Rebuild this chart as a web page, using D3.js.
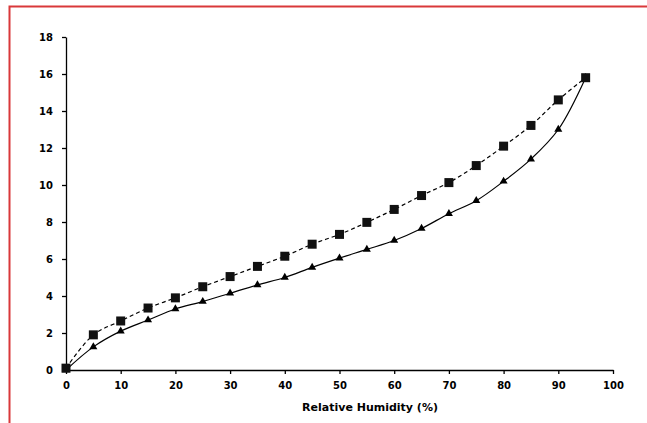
<!DOCTYPE html>
<html>
<head>
<meta charset="utf-8">
<script src="https://cdn.jsdelivr.net/npm/d3@7"></script>
<style>
  body { margin: 0; background: #fff; }
  svg { display: block; }
  .axis text { font-family: "DejaVu Sans", Verdana, sans-serif; font-weight: bold; font-size: 10px; fill: #000; }
  .axis path, .axis line { stroke: #000; stroke-width: 1.3; }
</style>
</head>
<body>
<div id="chart"></div>
<script>
  // relative humidity (%)
  var humidity = [0, 5, 10, 15, 20, 25, 30, 35, 40, 45, 50, 55, 60, 65, 70, 75, 80, 85, 90, 95];
  // dashed series, square markers
  var squareValues = [0.1, 1.9, 2.65, 3.35, 3.9, 4.5, 5.05, 5.6, 6.15, 6.8, 7.33, 7.98, 8.68, 9.43, 10.13, 11.05, 12.1, 13.22, 14.6, 15.8];
  // solid series, triangle markers
  var triangleValues = [0, 1.25, 2.1, 2.7, 3.3, 3.7, 4.15, 4.6, 5.0, 5.55, 6.05, 6.52, 7.0, 7.65, 8.45, 9.15, 10.2, 11.4, 13.0, 15.8];
  var xTicks = [0, 10, 20, 30, 40, 50, 60, 70, 80, 90, 100];
  var yTicks = [0, 2, 4, 6, 8, 10, 12, 14, 16, 18];

  var width = 647, height = 423;
  var svg = d3.select('#chart').append('svg')
    .attr('width', width)
    .attr('height', height);

  // red frame (only top and left edges show)
  svg.append('rect')
    .attr('x', 9.5).attr('y', 6.5)
    .attr('width', 660).attr('height', 440)
    .attr('fill', 'none')
    .attr('stroke', '#d9383a')
    .attr('stroke-width', 2);

  var x = d3.scaleLinear().domain([0, 100]).range([66, 613]);
  var y = d3.scaleLinear().domain([0, 18]).range([370, 37]);

  svg.append('g')
    .attr('class', 'axis')
    .attr('transform', 'translate(0,370)')
    .call(d3.axisBottom(x).tickValues(xTicks).tickSize(4).tickSizeOuter(0).tickPadding(8));

  svg.append('g')
    .attr('class', 'axis')
    .attr('transform', 'translate(66,0)')
    .call(d3.axisLeft(y).tickValues(yTicks).tickSize(4).tickSizeOuter(0).tickPadding(9));

  svg.append('text')
    .attr('x', 370).attr('y', 411)
    .attr('text-anchor', 'middle')
    .style('font-family', '"DejaVu Sans", Verdana, sans-serif')
    .style('font-weight', 'bold')
    .style('font-size', '11px')
    .text('Relative Humidity (%)');

  var line = function(vals) {
    return d3.line()
      .x(function(d, i) { return x(humidity[i]); })
      .y(function(d) { return y(d); })
      .curve(d3.curveCatmullRom.alpha(0.5))(vals);
  };

  svg.append('path')
    .attr('d', line(squareValues))
    .attr('fill', 'none')
    .attr('stroke', '#000')
    .attr('stroke-width', 1.2)
    .attr('stroke-dasharray', '4,3');

  svg.append('path')
    .attr('d', line(triangleValues))
    .attr('fill', 'none')
    .attr('stroke', '#000')
    .attr('stroke-width', 1.2);

  svg.selectAll('.tri')
    .data(triangleValues)
    .enter().append('path')
      .attr('class', 'tri')
      .attr('transform', function(d, i) { return 'translate(' + x(humidity[i]) + ',' + y(d) + ')'; })
      .attr('d', d3.symbol().type(d3.symbolTriangle).size(28))
      .attr('fill', '#000');

  svg.selectAll('.sq')
    .data(squareValues)
    .enter().append('rect')
      .attr('class', 'sq')
      .attr('x', function(d, i) { return x(humidity[i]) - 4.5; })
      .attr('y', function(d) { return y(d) - 4.5; })
      .attr('width', 9)
      .attr('height', 9)
      .attr('fill', '#111');
</script>
</body>
</html>
